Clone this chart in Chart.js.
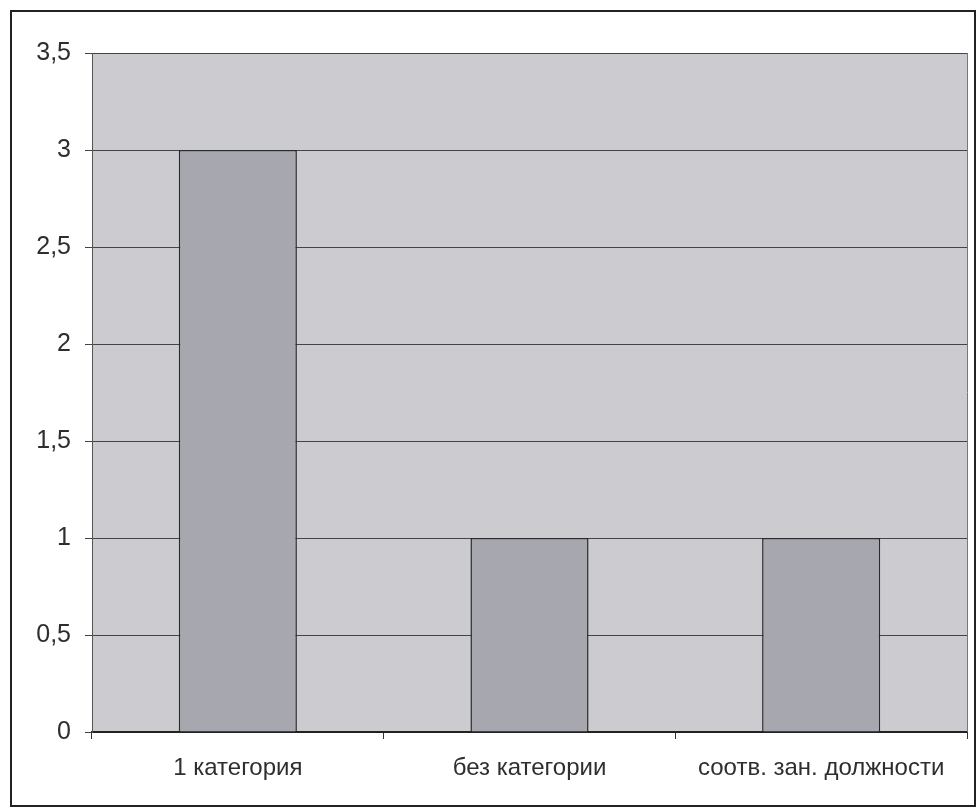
<!DOCTYPE html>
<html>
<head>
<meta charset="utf-8">
<script src="https://cdn.jsdelivr.net/npm/chart.js@4"></script>
<style>
  html, body { margin: 0; padding: 0; background: #fff; }
  #wrap { width: 977px; height: 809px; }
</style>
</head>
<body>
<div id="wrap"><canvas id="chart" width="977" height="809"></canvas></div>
<script>
const categories = ["1 категория", "без категории", "соотв. зан. должности"];
const values = [3, 1, 1];
const yTicks = [0, 0.5, 1, 1.5, 2, 2.5, 3, 3.5];

// frame around the whole chart + grey plot area
const frame = {
  id: "frame",
  beforeDraw(chart) {
    const c = chart.ctx, a = chart.chartArea;
    c.save();
    c.fillStyle = "#fff";
    c.fillRect(0, 0, chart.width, chart.height);
    c.fillStyle = "#cbcbd0";
    c.fillRect(a.left, a.top, a.right - a.left, a.bottom - a.top);
    c.strokeStyle = "#222";
    c.lineWidth = 2;
    c.strokeRect(11, 11, 964, 795);
    c.restore();
  },
  afterDatasetsDraw(chart) {
    const c = chart.ctx, a = chart.chartArea;
    c.save();
    c.strokeStyle = "#777";
    c.lineWidth = 1;
    c.beginPath();
    c.moveTo(a.right + 0.5, a.top);
    c.lineTo(a.right + 0.5, a.bottom);
    c.stroke();
    c.restore();
  }
};

const ctx = document.getElementById("chart").getContext("2d");
new Chart(ctx, {
  type: "bar",
  data: {
    labels: categories,
    datasets: [{
      data: values,
      backgroundColor: "#a7a7af",
      borderColor: "#2a2a2a",
      borderWidth: 1.5,
      categoryPercentage: 0.405,
      barPercentage: 1
    }]
  },
  options: {
    responsive: false,
    animation: false,
    layout: { padding: { left: 12, top: 53, right: 10, bottom: 0 } },
    plugins: { legend: { display: false }, tooltip: { enabled: false } },
    scales: {
      x: {
        afterFit: (s) => { s.height = 77; },
        grid: { offset: true, drawOnChartArea: false, color: "#333", tickLength: 7 },
        border: { color: "#222", width: 2 },
        ticks: { color: "#2e2e2e", padding: 15, font: { family: "Liberation Sans", size: 24 } }
      },
      y: {
        min: 0,
        max: 3.5,
        afterFit: (s) => { s.width = 80; },
        afterBuildTicks: (s) => { s.ticks = yTicks.map((v) => ({ value: v })); },
        grid: { color: "#444", tickLength: 7 },
        border: { color: "#555", width: 1 },
        ticks: {
          color: "#2e2e2e",
          padding: 14,
          font: { family: "Liberation Sans", size: 25 },
          callback: (v) => String(v).replace(".", ",")
        }
      }
    }
  },
  plugins: [frame]
});
</script>
</body>
</html>
